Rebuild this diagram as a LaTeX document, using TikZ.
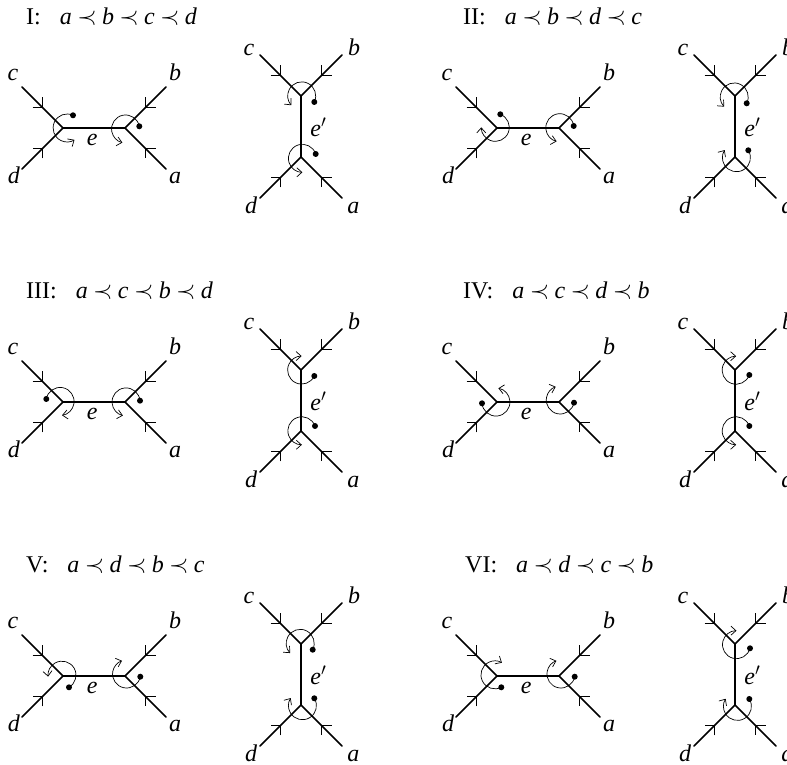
\documentclass[tikz,border=0pt]{standalone}
\usepackage{fontspec}
\setmainfont{Liberation Serif}
\usetikzlibrary{calc, arrows.meta}
\newcommand{\chain}[4]{\textit{#1}\hspace{5.4pt}$\prec$\hspace{5.4pt}\textit{#2}\hspace{5.4pt}$\prec$\hspace{5.4pt}\textit{#3}\hspace{5.4pt}$\prec$\hspace{5.4pt}\textit{#4}}
% one pair of trees: tag, shift in x, shift in y
\newcommand{\twotrees}[3]{%
  \begin{scope}[shift={(#2,-#3)}]
    \coordinate (#1L) at (63,637);
    \coordinate (#1R) at (125,637);
    \coordinate (#1T) at (301,669);
    \coordinate (#1B) at (301,608);
    \coordinate (#1c) at (22,678);
    \coordinate (#1d) at (22,596);
    \coordinate (#1b) at (166,678);
    \coordinate (#1a) at (166,596);
    \coordinate (#1C) at (260,710);
    \coordinate (#1D) at (260,567);
    \coordinate (#1E) at (342,710);
    \coordinate (#1A) at (342,567);
    \draw[edge] (#1L) -- (#1R);
    \draw[edge] (#1T) -- (#1B);
    \foreach \leaf/\hub in {c/L,d/L,b/R,a/R,C/T,E/T,D/B,A/B}{
      \draw[edge] (#1\leaf) -- (#1\hub);
      \coordinate (#1m) at ($(#1\leaf)!.5!(#1\hub)$);
      \draw[tick] ($(#1m)!10pt!45:(#1\leaf)$) -- (#1m) -- ($(#1m)!10pt!-45:(#1\leaf)$);
    }
    \node[lab] (#1lc) at (13,684) {c};
    \node[lab] (#1ld) at (14,581.5) {d};
    \node[lab] (#1lb) at (175,684) {b};
    \node[lab] (#1la) at (175,581.5) {a};
    \node[lab] (#1le) at (92.3,619.3) {e};
    \node[lab] (#1lC) at (249,709) {c};
    \node[lab] (#1lE) at (354,709) {b};
    \node[lab] (#1lD) at (251,551) {d};
    \node[lab] (#1lA) at (353.3,551) {a};
    \node[lab] (#1lf) at (318.3,628.3) {e$'$};
  \end{scope}
}
% dot at an offset from the vertex, then the arc from it
\newcommand{\turn}[4]{%
  \node[spot] (#1s) at ([shift={(#2)}]#1) {};
  \draw[turning] (#1s.center) arc[start angle=#3, end angle=#4, radius=14pt];
}

\begin{document}
\begin{tikzpicture}[
    x=1pt, y=1pt,
    edge/.style={line width=1.6pt, line cap=round},
    tick/.style={line width=0.8pt},
    turning/.style={line width=0.7pt, -{Straight Barb[length=5pt,width=9pt]}},
    spot/.style={circle, fill=black, inner sep=0pt, minimum size=6pt},
    lab/.style={anchor=base, inner sep=0pt, font=\fontsize{24}{28}\selectfont\itshape},
    title/.style={anchor=base west, inner sep=0pt, font=\fontsize{24}{28}\selectfont},
  ]
    \useasboundingbox (0,0) rectangle (787,765);
    \clip (0,0) rectangle (787,765);

    \node[title] (t1) at (26,740) {I:\hspace{19pt}\chain{a}{b}{c}{d}};
    \node[title] (t2) at (463,740) {II:\hspace{19pt}\chain{a}{b}{d}{c}};
    \node[title] (t3) at (26,466) {III:\hspace{19pt}\chain{a}{c}{b}{d}};
    \node[title] (t4) at (463,466) {IV:\hspace{19pt}\chain{a}{c}{d}{b}};
    \node[title] (t5) at (26,192.5) {V:\hspace{19pt}\chain{a}{d}{b}{c}};
    \node[title] (t6) at (465,192.5) {VI:\hspace{19pt}\chain{a}{d}{c}{b}};

    \twotrees{p}{0}{0}
    \turn{pL}{10,12.7}{65}{302}
    \turn{pR}{14.3,1.7}{11}{257}
    \turn{pT}{13.3,-6}{-26}{222}
    \turn{pB}{14.7,3}{18}{270}

    \twotrees{q}{434}{0}
    \turn{qL}{3.3,13.7}{69}{-180}
    \turn{qR}{14.7,2}{7}{257}
    \turn{qT}{11.7,-7.3}{-27}{224}
    \turn{qB}{13.3,6.7}{32}{-213}

    \twotrees{r}{0}{274}
    \turn{rL}{-16.7,3}{170}{-82}
    \turn{rR}{15,1.3}{5}{257}
    \turn{rT}{13.3,-6}{-25}{-270}
    \turn{rB}{14,5}{20}{270}

    \twotrees{s}{434}{274}
    \turn{sL}{-15,-1.3}{185}{440}
    \turn{sR}{15,-0.7}{-11}{-251}
    \turn{sT}{14.3,-5}{-20}{-270}
    \turn{sB}{14.3,5}{20}{270}

    \twotrees{u}{0}{548}
    \turn{uL}{6,-11.3}{-60}{186}
    \turn{uR}{15.3,-0.7}{-11}{-251}
    \turn{uT}{11.7,-5.7}{-27}{224}
    \turn{uB}{13.3,6.7}{32}{-213}

    \twotrees{v}{434}{548}
    \turn{vL}{4.3,-11.3}{-63}{-300}
    \turn{vR}{15.7,-0.7}{-11}{-251}
    \turn{vT}{15,-4.3}{-15}{-270}
    \turn{vB}{14.3,6}{32}{-213}
  \end{tikzpicture}
\end{document}
